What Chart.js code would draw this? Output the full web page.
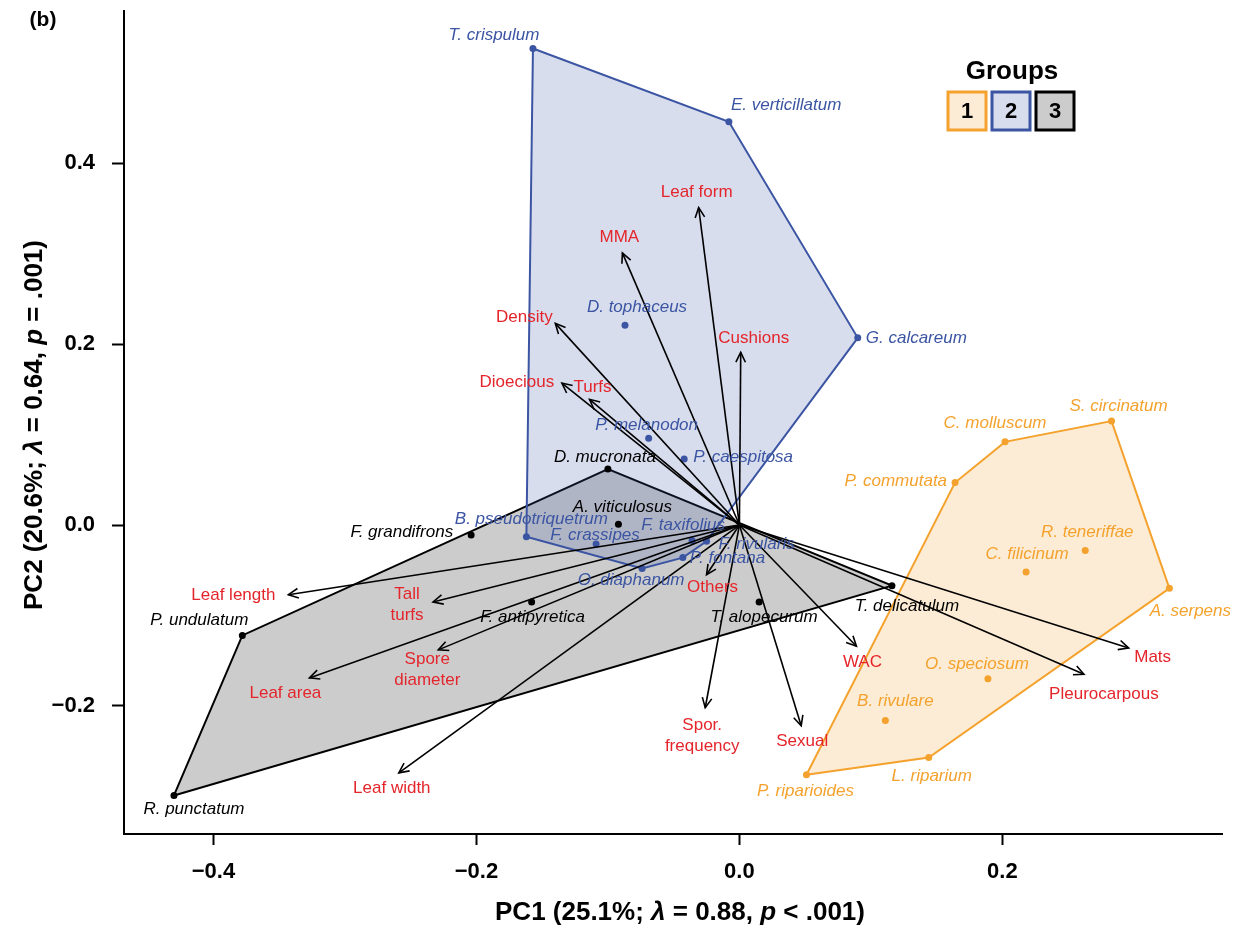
<!DOCTYPE html>
<html>
<head>
<meta charset="utf-8">
<script src="https://cdn.jsdelivr.net/npm/chart.js@4.4.0/dist/chart.umd.min.js"></script>
<style>
  html, body { margin: 0; padding: 0; background: #fff; }
  #wrap { width: 1244px; height: 936px; }
</style>
</head>
<body>
<div id="wrap"><canvas id="pca" width="1244" height="936"></canvas></div>
<script>
// Group 1 (orange)
const speciesG1 = ['S. circinatum', 'C. molluscum', 'P. commutata', 'R. teneriffae', 'C. filicinum',
  'A. serpens', 'O. speciosum', 'B. rivulare', 'L. riparium', 'P. riparioides'];
const pc1G1 = [0.283, 0.202, 0.164, 0.263, 0.218, 0.327, 0.189, 0.111, 0.144, 0.051];
const pc2G1 = [0.115, 0.092, 0.047, -0.028, -0.052, -0.070, -0.170, -0.216, -0.257, -0.276];

// Group 2 (blue)
const speciesG2 = ['T. crispulum', 'E. verticillatum', 'G. calcareum', 'D. tophaceus', 'P. melanodon',
  'P. caespitosa', 'B. pseudotriquetrum', 'F. crassipes', 'F. taxifolius', 'F. rivularis',
  'P. fontana', 'O. diaphanum'];
const pc1G2 = [-0.157, -0.008, 0.090, -0.087, -0.069, -0.042, -0.162, -0.109, -0.036, -0.025, -0.043, -0.074];
const pc2G2 = [0.527, 0.446, 0.207, 0.221, 0.096, 0.073, -0.013, -0.021, -0.017, -0.018, -0.036, -0.048];

// Group 3 (black)
const speciesG3 = ['D. mucronata', 'A. viticulosus', 'F. grandifrons', 'P. undulatum',
  'F. antipyretica', 'T. alopecurum', 'T. delicatulum', 'R. punctatum'];
const pc1G3 = [-0.100, -0.092, -0.204, -0.378, -0.158, 0.015, 0.116, -0.430];
const pc2G3 = [0.062, 0.001, -0.011, -0.122, -0.085, -0.085, -0.067, -0.299];

// Trait loadings (arrows)
const traitNames = ['Leaf form', 'MMA', 'Density', 'Dioecious', 'Turfs', 'Cushions', 'Leaf length',
  'Tall\nturfs', 'Spore\ndiameter', 'Leaf area', 'Leaf width', 'Others', 'Spor.\nfrequency',
  'Sexual', 'WAC', 'Pleurocarpous', 'Mats'];
const traitPC1 = [-0.031, -0.089, -0.140, -0.135, -0.114, 0.001, -0.343, -0.233, -0.229, -0.327,
  -0.259, -0.025, -0.026, 0.047, 0.089, 0.262, 0.296];
const traitPC2 = [0.351, 0.301, 0.223, 0.157, 0.139, 0.191, -0.077, -0.085, -0.138, -0.169,
  -0.274, -0.055, -0.202, -0.222, -0.134, -0.165, -0.136];

// Axes
const xTickValues = [-0.4, -0.2, 0.0, 0.2];
const yTickValues = [-0.2, 0.0, 0.2, 0.4];
const xMin = -0.468, xMax = 0.367;
const yMin = -0.3416, yMax = 0.5684;

const FONT = '"Liberation Sans", Arial, Helvetica, sans-serif';
const ORANGE = '#F4A22D';
const BLUE = '#3B55A3';
const RED = '#E4252B';

// label offsets in pixels from the point: [dx, dy, align]
const speciesLabelPos = {
  'T. crispulum': [-39, -13, 'center'], 'E. verticillatum': [2, -16, 'left'],
  'G. calcareum': [8, 0, 'left'], 'D. tophaceus': [12, -18, 'center'],
  'P. melanodon': [-2, -13, 'center'], 'P. caespitosa': [9, -2, 'left'],
  'B. pseudotriquetrum': [5, -18, 'center'], 'F. crassipes': [-1, -9, 'center'],
  'F. taxifolius': [-9, -15, 'center'], 'F. rivularis': [12, 3, 'left'],
  'P. fontana': [7, 1, 'left'], 'O. diaphanum': [-11, 12, 'center'],
  'D. mucronata': [-3, -12, 'center'], 'A. viticulosus': [4, -17, 'center'],
  'F. grandifrons': [-18, -3, 'right'], 'P. undulatum': [-43, -15, 'center'],
  'F. antipyretica': [1, 15, 'center'], 'T. alopecurum': [5, 15, 'center'],
  'T. delicatulum': [15, 21, 'center'], 'R. punctatum': [20, 14, 'center'],
  'S. circinatum': [7, -15, 'center'], 'C. molluscum': [-10, -19, 'center'],
  'P. commutata': [-8, -1, 'right'], 'R. teneriffae': [2, -18, 'center'],
  'C. filicinum': [1, -18, 'center'], 'A. serpens': [21, 23, 'center'],
  'O. speciosum': [-11, -15, 'center'], 'B. rivulare': [10, -19, 'center'],
  'L. riparium': [3, 19, 'center'], 'P. riparioides': [-1, 17, 'center']
};
const traitLabelPos = {
  'Leaf form': [-2, -15], 'MMA': [-3, -16], 'Density': [-31, -6], 'Dioecious': [-45, -1],
  'Turfs': [3, -12], 'Cushions': [13, -14], 'Leaf length': [-55, 1], 'Tall\nturfs': [-26, 3],
  'Spore\ndiameter': [-11, 20], 'Leaf area': [-24, 15], 'Leaf width': [-7, 15], 'Others': [6, 13],
  'Spor.\nfrequency': [-3, 28], 'Sexual': [1, 15], 'WAC': [6, 16], 'Pleurocarpous': [20, 20],
  'Mats': [24, 9]
};

const groups = [
  { names: speciesG1, pc1: pc1G1, pc2: pc2G1, color: ORANGE, fill: 'rgba(244,162,45,0.2)' },
  { names: speciesG2, pc1: pc1G2, pc2: pc2G2, color: BLUE, fill: 'rgba(59,85,163,0.2)' },
  { names: speciesG3, pc1: pc1G3, pc2: pc2G3, color: '#000', fill: 'rgba(0,0,0,0.2)' }
];

// Выпуклая оболочка (monotone chain)
function convexHull(pts) {
  const p = pts.slice().sort((a, b) => a.x - b.x || a.y - b.y);
  const cross = (o, a, b) => (a.x - o.x) * (b.y - o.y) - (a.y - o.y) * (b.x - o.x);
  const lower = [], upper = [];
  for (const q of p) {
    while (lower.length >= 2 && cross(lower[lower.length - 2], lower[lower.length - 1], q) <= 0) lower.pop();
    lower.push(q);
  }
  for (let i = p.length - 1; i >= 0; i--) {
    const q = p[i];
    while (upper.length >= 2 && cross(upper[upper.length - 2], upper[upper.length - 1], q) <= 0) upper.pop();
    upper.push(q);
  }
  upper.pop(); lower.pop();
  const hull = lower.concat(upper);
  hull.push(hull[0]);
  return hull;
}

const datasets = [];
groups.forEach(g => {
  const pts = g.pc1.map((v, i) => ({ x: v, y: g.pc2[i] }));
  datasets.push({
    type: 'scatter', data: pts, order: 1,
    pointRadius: 3.5, pointHoverRadius: 3.5, pointBackgroundColor: g.color, pointBorderWidth: 0
  });
  datasets.push({
    type: 'line', data: convexHull(pts), order: 2, fill: 'shape', tension: 0,
    backgroundColor: g.fill, borderColor: g.color, borderWidth: 2, pointRadius: 0
  });
});

function fmtTick(v) {
  const r = Math.round(v * 10) / 10;
  return (r < 0 ? '\u2212' : '') + Math.abs(r).toFixed(1);
}

function drawArrow(ctx, x0, y0, x1, y1) {
  ctx.beginPath();
  ctx.moveTo(x0, y0);
  ctx.lineTo(x1, y1);
  ctx.stroke();
  const a = Math.atan2(y1 - y0, x1 - x0), L = 11, h = Math.PI / 7;
  ctx.beginPath();
  ctx.moveTo(x1 - L * Math.cos(a - h), y1 - L * Math.sin(a - h));
  ctx.lineTo(x1, y1);
  ctx.lineTo(x1 - L * Math.cos(a + h), y1 - L * Math.sin(a + h));
  ctx.stroke();
}

// text made of runs with italic parts
function drawRuns(ctx, runs, cx, cy, rot, size) {
  ctx.save();
  ctx.translate(cx, cy);
  ctx.rotate(rot);
  const fontOf = it => `${it ? 'italic ' : ''}bold ${size}px ${FONT}`;
  let total = 0;
  runs.forEach(r => { ctx.font = fontOf(r[1]); total += ctx.measureText(r[0]).width; });
  let x = -total / 2;
  ctx.textAlign = 'left';
  ctx.textBaseline = 'middle';
  ctx.fillStyle = '#000';
  runs.forEach(r => {
    ctx.font = fontOf(r[1]);
    ctx.fillText(r[0], x, 0);
    x += ctx.measureText(r[0]).width;
  });
  ctx.restore();
}

const overlay = {
  id: 'overlay',
  afterDatasetsDraw(chart) {
    const { ctx } = chart;
    const sx = chart.scales.x, sy = chart.scales.y;
    const ox = sx.getPixelForValue(0), oy = sy.getPixelForValue(0);
    ctx.save();
    ctx.strokeStyle = '#000';
    ctx.lineWidth = 1.6;
    ctx.lineJoin = 'miter';
    traitNames.forEach((n, i) => {
      drawArrow(ctx, ox, oy, sx.getPixelForValue(traitPC1[i]), sy.getPixelForValue(traitPC2[i]));
    });

    // подписи признаков
    ctx.font = `17px ${FONT}`;
    ctx.fillStyle = RED;
    ctx.textAlign = 'center';
    ctx.textBaseline = 'middle';
    traitNames.forEach((n, i) => {
      const [dx, dy] = traitLabelPos[n];
      const lines = n.split('\n');
      const cx = sx.getPixelForValue(traitPC1[i]) + dx;
      const cy = sy.getPixelForValue(traitPC2[i]) + dy;
      lines.forEach((ln, k) => ctx.fillText(ln, cx, cy + (k - (lines.length - 1) / 2) * 21));
    });

    // подписи видов
    ctx.font = `italic 17px ${FONT}`;
    groups.forEach(g => {
      ctx.fillStyle = g.color;
      g.names.forEach((n, i) => {
        const [dx, dy, al] = speciesLabelPos[n];
        ctx.textAlign = al;
        ctx.fillText(n, sx.getPixelForValue(g.pc1[i]) + dx, sy.getPixelForValue(g.pc2[i]) + dy);
      });
    });
    ctx.restore();
  },
  afterDraw(chart) {
    const { ctx } = chart;
    drawRuns(ctx, [['PC1 (25.1%; ', false], ['\u03bb', true], [' = 0.88, ', false], ['p', true], [' < .001)', false]],
      680, 913, 0, 26);
    drawRuns(ctx, [['PC2 (20.6%; ', false], ['\u03bb', true], [' = 0.64, ', false], ['p', true], [' = .001)', false]],
      35, 425, -Math.PI / 2, 26);

    ctx.save();
    ctx.fillStyle = '#000';
    ctx.textAlign = 'center';
    ctx.textBaseline = 'middle';
    ctx.font = `bold 21px ${FONT}`;
    ctx.fillText('(b)', 43, 20);

    // легенда
    ctx.font = `bold 26px ${FONT}`;
    ctx.fillText('Groups', 1012, 72);
    ctx.lineWidth = 3;
    ctx.font = `bold 22px ${FONT}`;
    groups.forEach((g, i) => {
      const bx = 948 + i * 44, by = 92;
      ctx.fillStyle = '#fff';
      ctx.fillRect(bx, by, 38, 38);
      ctx.fillStyle = g.fill;
      ctx.fillRect(bx, by, 38, 38);
      ctx.strokeStyle = g.color;
      ctx.strokeRect(bx, by, 38, 38);
      ctx.fillStyle = '#000';
      ctx.fillText(String(i + 1), bx + 19, by + 20);
    });
    ctx.restore();
  }
};

const tickFont = { family: FONT, size: 22, weight: 'bold' };

new Chart(document.getElementById('pca'), {
  type: 'scatter',
  data: { datasets },
  options: {
    responsive: false,
    animation: false,
    devicePixelRatio: 1,
    layout: { padding: { top: 11, right: 22, left: 0, bottom: 0 } },
    plugins: { legend: { display: false }, tooltip: { enabled: false } },
    scales: {
      x: {
        type: 'linear', min: xMin, max: xMax,
        afterBuildTicks: s => { s.ticks = xTickValues.map(v => ({ value: v })); },
        afterFit: s => { s.height = 102; s.paddingLeft = 0; s.paddingRight = 0; },
        grid: { display: true, drawOnChartArea: false, drawTicks: true, tickLength: 11, tickWidth: 2, tickColor: '#000' },
        border: { display: true, color: '#000', width: 2 },
        ticks: { color: '#000', font: tickFont, padding: 14, callback: fmtTick, maxRotation: 0, autoSkip: false }
      },
      y: {
        type: 'linear', min: yMin, max: yMax,
        afterBuildTicks: s => { s.ticks = yTickValues.map(v => ({ value: v })); },
        afterFit: s => { s.width = 124; s.paddingTop = 0; s.paddingBottom = 0; },
        grid: { display: true, drawOnChartArea: false, drawTicks: true, tickLength: 12, tickWidth: 2, tickColor: '#000' },
        border: { display: true, color: '#000', width: 2 },
        ticks: { color: '#000', font: tickFont, padding: 17, callback: fmtTick, autoSkip: false }
      }
    }
  },
  plugins: [overlay]
});
</script>
</body>
</html>
